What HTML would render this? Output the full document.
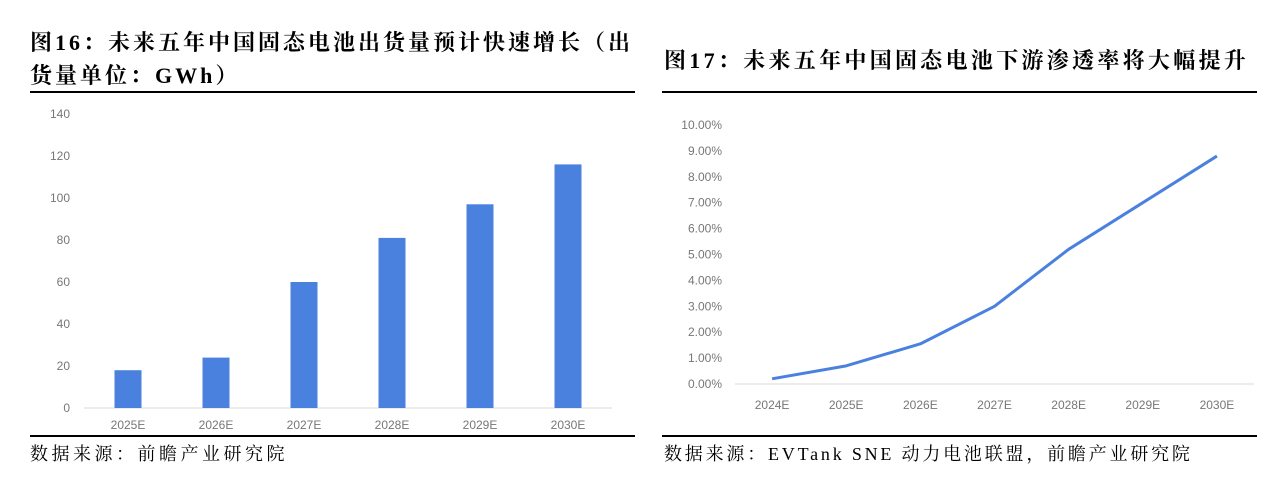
<!DOCTYPE html>
<html><head><meta charset="utf-8"><style>
body{margin:0;width:1269px;height:483px;background:#fff;overflow:hidden;font-family:"Liberation Serif","Noto Serif CJK SC",serif;}
.t{position:absolute;font-weight:bold;font-size:22px;color:#000;white-space:nowrap;letter-spacing:3px;}
.s{position:absolute;font-size:18px;color:#000;white-space:nowrap;letter-spacing:3.5px;}
.ln{position:absolute;background:#000;}
svg{position:absolute;left:0;top:0;}
</style></head><body>
<div class="t" style="left:30px;top:26px;">图16：未来五年中国固态电池出货量预计快速增长（出</div>
<div class="t" style="left:30px;top:59px;">货量单位：GWh）</div>
<div class="t" style="left:664px;top:44px;letter-spacing:3.3px;">图17：未来五年中国固态电池下游渗透率将大幅提升</div>
<div class="ln" style="left:30px;top:91px;width:605px;height:2px;"></div>
<div class="ln" style="left:662px;top:91px;width:595px;height:2px;"></div>
<div class="ln" style="left:30px;top:435px;width:605px;height:2px;"></div>
<div class="ln" style="left:662px;top:435px;width:595px;height:2px;"></div>
<div class="s" style="left:30px;top:440px;">数据来源：前瞻产业研究院</div>
<div class="s" style="left:664px;top:440px;letter-spacing:2.8px;">数据来源：EVTank SNE 动力电池联盟，前瞻产业研究院</div>
<svg id="c" width="1269" height="483"></svg>
<script>
const barCats=["2025E","2026E","2027E","2028E","2029E","2030E"];
const barVals=[18,24,60,81,97,116];
const barTicks=[0,20,40,60,80,100,120,140];
const lineCats=["2024E","2025E","2026E","2027E","2028E","2029E","2030E"];
const lineVals=[0.2,0.7,1.55,3.0,5.2,7.0,8.8];
const lineTicks=[0,1,2,3,4,5,6,7,8,9,10];
const NS="http://www.w3.org/2000/svg",svg=document.getElementById('c');
function mk(t,a,txt){const e=document.createElementNS(NS,t);for(const k in a)e.setAttribute(k,a[k]);if(txt!=null)e.textContent=txt;svg.appendChild(e);return e;}
const F='"Liberation Sans",sans-serif';
const bx0=84,bx1=612,by0=408,by1=114;
const byS=v=>by0-(v/140)*(by0-by1);
const bStep=(bx1-bx0)/barCats.length;
const bxS=i=>bx0+bStep*(i+0.5);
let e=mk('line',{x1:bx0,x2:bx1,y1:by0,y2:by0,stroke:'#d9d9d9','stroke-width':1});

barTicks.forEach(t=>{const l=mk('text',{x:70,y:byS(t)+4,'text-anchor':'end','font-size':12,fill:'#777','font-family':F},t);
});
barCats.forEach((c,i)=>{const r=mk('rect',{x:bxS(i)-13.5,y:byS(barVals[i]),width:27,height:by0-byS(barVals[i]),fill:'#4a81df'});

const l=mk('text',{x:bxS(i),y:429,'text-anchor':'middle','font-size':12,fill:'#777','font-family':F},c);
});
const lx0=735,lx1=1254,ly0=384,ly1=125;
const lyS=v=>ly0-(v/10)*(ly0-ly1);
const lStep=(lx1-lx0)/lineCats.length;
const lxS=i=>lx0+lStep*(i+0.5);
e=mk('line',{x1:lx0,x2:lx1,y1:ly0,y2:ly0,stroke:'#d9d9d9','stroke-width':1});

lineTicks.forEach(t=>{const l=mk('text',{x:722,y:lyS(t)+4,'text-anchor':'end','font-size':12,fill:'#777','font-family':F},t.toFixed(2)+'%');
});
lineCats.forEach((c,i)=>{const l=mk('text',{x:lxS(i),y:409,'text-anchor':'middle','font-size':12,fill:'#777','font-family':F},c);
});
const p=mk('polyline',{points:lineVals.map((v,i)=>lxS(i)+','+lyS(v)).join(' '),fill:'none',stroke:'#4a81df','stroke-width':3,'stroke-linejoin':'round'});

</script>
</body></html>
